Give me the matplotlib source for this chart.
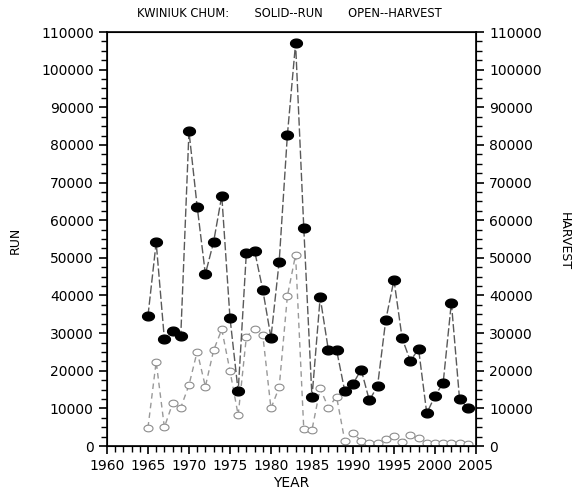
import matplotlib.pyplot as plt
from matplotlib.ticker import MultipleLocator
from matplotlib.path import Path
import numpy as np

years = list(range(1965, 2005))
run = [34600, 54100, 28400, 30600, 29300, 83600, 63600, 45700, 54200, 66500,
       34100, 14500, 51400, 51900, 41500, 28800, 49000, 82600, 107000, 58000,
       12900, 39500, 25500, 25500, 14600, 16500, 20300, 12100, 16000, 33500,
       44100, 28600, 22600, 25800, 8700, 13300, 16800, 38100, 12400, 10200]
harvest = [4900, 22400, 5000, 11300, 10200, 16200, 25100, 15800, 25400, 31000,
           20000, 8200, 29000, 31200, 29500, 10000, 15600, 39800, 50800, 4500,
           4300, 15300, 10200, 13100, 1400, 3400, 1400, 700, 900, 1800,
           2700, 1200, 2900, 2000, 700, 900, 900, 700, 900, 500]

plt.rcParams['font.family'] = ['DejaVu Sans']

# flattened circle, like the original plot symbols
t = np.linspace(0, 2 * np.pi, 40)
oval = Path(np.column_stack([1.35 * np.cos(t), np.sin(t)]), closed=True)

fig = plt.figure(figsize=(5.77, 4.91), dpi=100)
ax = fig.add_axes([0.1854, 0.0916, 0.6395, 0.8432])

ax.plot(years, harvest, color='0.6', linestyle=(0, (4, 3)), linewidth=1,
        marker=oval, markersize=6.5, markerfacecolor='white', markeredgecolor='0.55',
        markeredgewidth=0.8)
ax.plot(years, run, color='0.35', linestyle=(0, (6, 2)), linewidth=1,
        marker=oval, markersize=8.5, markerfacecolor='black', markeredgecolor='black')

ax.set_xlim(1960, 2005)
ax.set_ylim(0, 110000)
ax.xaxis.set_major_locator(MultipleLocator(5))
ax.xaxis.set_minor_locator(MultipleLocator(1))
ax.yaxis.set_major_locator(MultipleLocator(10000))
ax.yaxis.set_minor_locator(MultipleLocator(2500))
ax.tick_params(which='major', length=6, width=1.2, labelsize=10)
ax.tick_params(which='minor', length=4, width=1)
for s in ax.spines.values():
    s.set_linewidth(1.2)

ax2 = ax.twinx()
ax2.set_ylim(0, 110000)
ax2.yaxis.set_major_locator(MultipleLocator(10000))
ax2.yaxis.set_minor_locator(MultipleLocator(2500))
ax2.tick_params(which='major', length=6, width=1.2, labelsize=10)
ax2.tick_params(which='minor', length=4, width=1)

ax.set_xlabel('YEAR', fontsize=10, labelpad=2)
fig.text(0.027, 0.51, 'RUN', rotation=90, fontsize=9, ha='center', va='center')
fig.text(0.978, 0.51, 'HARVEST', rotation=270, fontsize=9, ha='center', va='center')
fig.text(0.502, 0.972, 'KWINIUK CHUM:       SOLID--RUN       OPEN--HARVEST',
         fontsize=8.3, ha='center', va='center')

fig.savefig('out.png', dpi=100)
